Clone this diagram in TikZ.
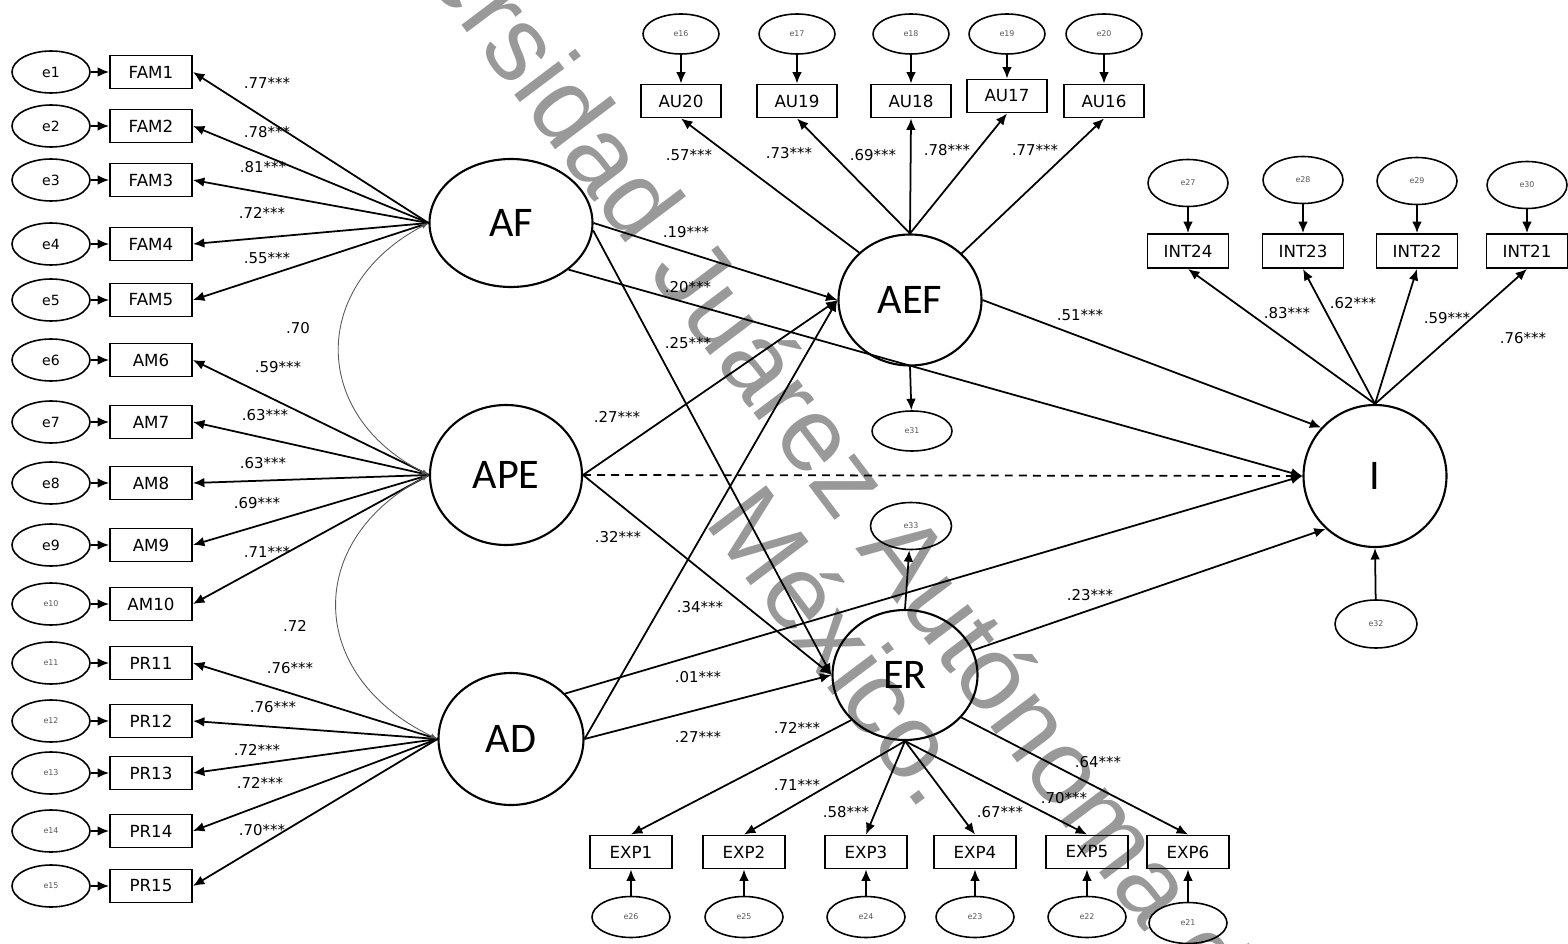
\documentclass[tikz,border=0pt]{standalone}
\usepackage{fontspec}
\setmainfont{Carlito}
\newfontfamily\boxfont{DejaVu Sans}
\newfontfamily\wmfont{Liberation Sans}
\usetikzlibrary{shapes.geometric,arrows.meta}

\begin{document}
\begin{tikzpicture}[x=0.2mm, y=-0.2mm,
  lat/.style={draw, ellipse, line width=1.2pt, inner sep=0pt, font=\fontsize{24}{24}\selectfont},
  obs/.style={draw, rectangle, line width=1.1pt, minimum width=16.4mm, minimum height=6.6mm,
              inner sep=0pt, font=\boxfont\fontsize{9.5}{9.5}\selectfont},
  err/.style={draw, ellipse, line width=0.9pt, minimum width=15.6mm, minimum height=8.4mm,
              inner sep=0pt, font=\boxfont\fontsize{8}{8}\selectfont},
  errsm/.style={err, font=\boxfont\fontsize{4.5}{4.5}\selectfont, text=black!65},
  arr/.style={line width=1pt, -{Latex[length=6.5pt,width=5.5pt]}},
  coef/.style={inner sep=0pt, font=\boxfont\fontsize{8.5}{8.5}\selectfont},
  corr/.style={line width=0.5pt, draw=black!65, {Latex[length=4pt,width=3pt]}-{Latex[length=4pt,width=3pt]}},
  wm/.style={inner sep=0pt, font=\wmfont\fontsize{60}{60}\selectfont, text=black!40}
]
\useasboundingbox (0,0) rectangle (1568,944);
\clip (0,0) rectangle (1568,944);

% watermark
\node[wm, rotate=-53, anchor=base] (wm1) at (900,607) {Universidad Juárez Autónoma de Tabasco.};
\node[wm, rotate=-53, anchor=base] (wm2) at (813,668) {México.};

% latent variables
\node[lat, minimum width=32.6mm, minimum height=25.6mm] (AF)  at (511,223) {AF};
\node[lat, minimum width=30.4mm, minimum height=28mm]   (APE) at (506,475) {APE};
\node[lat, minimum width=29mm,   minimum height=26.4mm] (AD)  at (511,739) {AD};
\node[lat, minimum width=28.6mm, minimum height=26.2mm] (AEF) at (910,300) {AEF};
\node[lat, minimum width=29mm,   minimum height=26mm]   (ER)  at (905,675) {ER};
\node[lat, minimum width=28.6mm, minimum height=28.4mm] (I)   at (1375,476) {I};

% left indicators
\foreach \n/\lab/\y in {1/FAM1/72, 2/FAM2/126, 3/FAM3/180, 4/FAM4/244, 5/FAM5/300,
                        6/AM6/360, 7/AM7/422, 8/AM8/483, 9/AM9/545}{
  \node[obs] (\lab) at (151,\y) {\lab};
  \node[err] (e\n) at (51,\y) {e\n};
  \draw[arr] (e\n) -- (\lab);
}
\foreach \n/\lab/\y in {10/AM10/604, 11/PR11/663, 12/PR12/721, 13/PR13/773, 14/PR14/831, 15/PR15/886}{
  \node[obs] (\lab) at (151,\y) {\lab};
  \node[errsm] (e\n) at (51,\y) {e\n};
  \draw[arr] (e\n) -- (\lab);
}
\foreach \lab in {FAM1,FAM2,FAM3,FAM4,FAM5}{\draw[arr] (AF.west) -- (\lab.east);}
\foreach \lab in {AM6,AM7,AM8,AM9,AM10}{\draw[arr] (APE.west) -- (\lab.east);}
\foreach \lab in {PR11,PR12,PR13,PR14,PR15}{\draw[arr] (AD.west) -- (\lab.east);}

% AEF indicators
\foreach \b/\n/\x/\y in {AU20/16/681/101, AU19/17/797/101, AU18/18/911/101, AU17/19/1007/96, AU16/20/1104/101}{
  \node[obs, minimum width=16mm] (\b) at (\x,\y) {\b};
  \node[errsm, minimum width=15.2mm, minimum height=8mm] (e\n) at (\x,34) {e\n};
  \draw[arr] (e\n) -- (\b);
}
\draw[arr] (AEF.137) -- (AU20.south);
\draw[arr] (AEF.north) -- (AU19.south);
\draw[arr] (AEF.north) -- (AU18.south);
\draw[arr] (AEF.north) -- (AU17.south);
\draw[arr] (AEF.42) -- (AU16.south);

% I indicators
\foreach \b/\n/\x/\ey in {INT24/27/1188/183, INT23/28/1303/180, INT22/29/1417/181, INT21/30/1527/185}{
  \node[obs, minimum width=16.2mm, minimum height=6.8mm] (\b) at (\x,251) {\b};
  \node[errsm, minimum width=16mm, minimum height=9.4mm] (e\n) at (\x,\ey) {e\n};
  \draw[arr] (e\n) -- (\b);
  \draw[arr] (I.north) -- (\b.south);
}

% ER indicators
\foreach \b/\n/\x/\ey in {EXP1/26/631/917, EXP2/25/744/917, EXP3/24/866/917, EXP4/23/975/917, EXP5/22/1087/917, EXP6/21/1188/923}{
  \node[obs] (\b) at (\x,852) {\b};
  \node[errsm, minimum height=8.2mm] (e\n) at (\x,\ey) {e\n};
  \draw[arr] (e\n) -- (\b);
}
\draw[arr] (ER.220) -- (EXP1.north);
\draw[arr] (ER.south) -- (EXP2.north);
\draw[arr] (ER.south) -- (EXP3.north);
\draw[arr] (ER.south) -- (EXP4.north);
\draw[arr] (ER.south) -- (EXP5.north);
\draw[arr] (ER.-37) -- (EXP6.north);

% disturbances
\node[errsm, minimum width=16mm, minimum height=8mm] (e31) at (912,431) {e31};
\node[errsm, minimum width=16.2mm, minimum height=9.4mm] (e33) at (911,526) {e33};
\node[errsm, minimum width=16.4mm, minimum height=9.6mm] (e32) at (1376,624) {e32};
\draw[arr] (AEF.south) -- (e31);
\draw[arr] (ER.north) -- (e33);
\draw[arr] (e32) -- (I.south);

% structural paths
\draw[arr] (AF.east) -- (AEF.west);
\draw[arr] (AF.-5) -- (ER.west);
\draw[arr] (AF.-39) -- (I.west);
\draw[arr] (APE.east) -- (AEF.west);
\draw[arr] (APE.east) -- (ER.west);
\draw[arr, dash pattern=on 4.5pt off 3.5pt] (APE.east) -- (I.west);
\draw[arr] (AD.east) -- (AEF.west);
\draw[arr] (AD.east) -- (ER.west);
\draw[arr] (AD.40) -- (I.west);
\draw[arr] (AEF.east) -- (I.138);
\draw[arr] (ER.20) -- (I.227);

% correlations
\draw[corr] (AF.west) .. controls (310,285) and (310,415) .. (APE.west);
\draw[corr] (APE.west) .. controls (305,540) and (305,675) .. (AD.west);

% coefficients
\foreach \lbl/\x/\y [count=\i] in {
  .77***/267/83, .78***/267/132, .81***/263/167, .72***/262/213, .55***/267/258,
  .59***/278/367, .63***/265/415, .63***/263/463, .69***/257/503, .71***/267/552,
  .76***/290/668, .76***/273/707, .72***/257/750, .72***/260/783, .70***/262/830,
  .70/298/328, .72/295/626,
  .57***/689/155, .73***/789/153, .69***/873/155, .78***/947/150, .77***/1035/150,
  .19***/686/232, .20***/688/287, .25***/688/343, .27***/617/417, .32***/618/537,
  .34***/700/607, .01***/698/677, .27***/698/737, .51***/1080/315, .23***/1090/595,
  .83***/1287/313, .62***/1353/303, .59***/1447/318, .76***/1523/338,
  .72***/797/728, .71***/797/785, .58***/846/812, .67***/1000/812, .70***/1064/798, .64***/1098/762}{
  \node[coef] (c\i) at (\x,\y) {\lbl};
}
\end{tikzpicture}
\end{document}
